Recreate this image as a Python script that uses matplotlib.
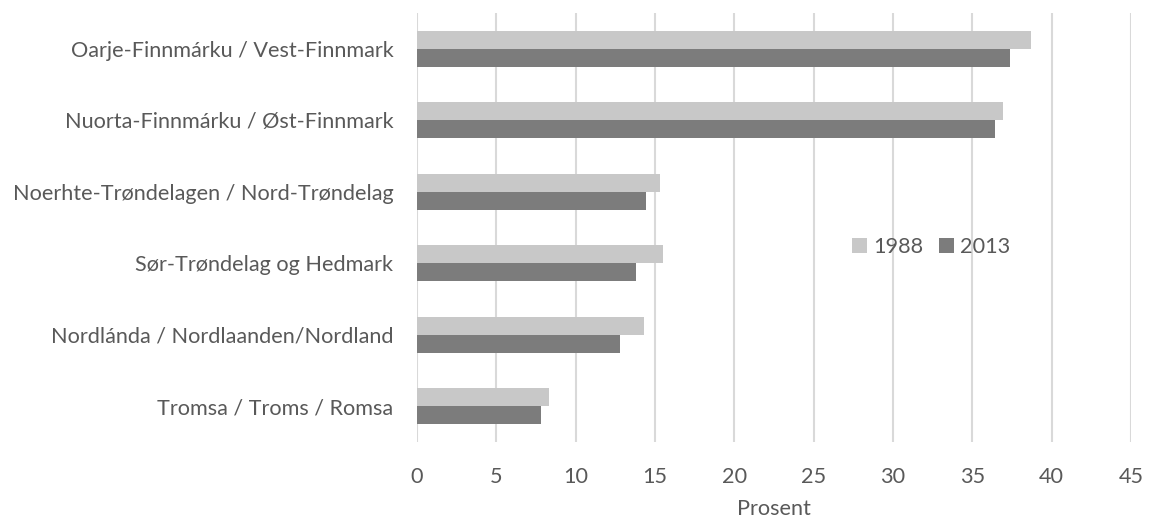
import numpy as np
import matplotlib.pyplot as plt

regions = [
    "Oarje-Finnmárku / Vest-Finnmark",
    "Nuorta-Finnmárku / Øst-Finnmark",
    "Noerhte-Trøndelagen / Nord-Trøndelag",
    "Sør-Trøndelag og Hedmark",
    "Nordlánda / Nordlaanden/Nordland",
    "Tromsa / Troms / Romsa",
]
v1988 = [38.7, 36.9, 15.3, 15.5, 14.3, 8.3]
v2013 = [37.4, 36.4, 14.4, 13.8, 12.8, 7.8]

plt.rcParams['font.family'] = ['Lato', 'DejaVu Sans']
txt = '#595959'
fs = 15.6

fig = plt.figure(figsize=(11.53, 5.23), dpi=100)
ax = fig.add_axes([0.3617, 0.1549, 0.6193, 0.8202])

y = np.arange(len(regions))
h = 0.25
ax.barh(y - h / 2, v1988, height=h, color='#c8c8c8', label='1988', zorder=3)
ax.barh(y + h / 2, v2013, height=h, color='#7c7c7c', label='2013', zorder=3)

ax.set_ylim(len(regions) - 0.5, -0.5)
ax.set_xlim(0, 45)
ax.set_xticks(np.arange(0, 46, 5))
ax.set_yticks(y)
ax.set_yticklabels(regions)
ax.grid(axis='x', color='#d9d9d9', linewidth=1.5, zorder=0)
for s in ax.spines.values():
    s.set_visible(False)
ax.tick_params(axis='both', length=0, labelsize=fs, labelcolor=txt)
ax.tick_params(axis='x', pad=18)
ax.tick_params(axis='y', pad=17)
ax.set_xlabel('Prosent', fontsize=fs, color=txt, labelpad=9)

ax.legend(loc='center', bbox_to_anchor=(0.72, 0.455), ncol=2, frameon=False,
          fontsize=fs, labelcolor=txt, handlelength=0.7, handleheight=0.7,
          handletextpad=0.3, columnspacing=0.7)

fig.savefig('out.png', dpi=100)
